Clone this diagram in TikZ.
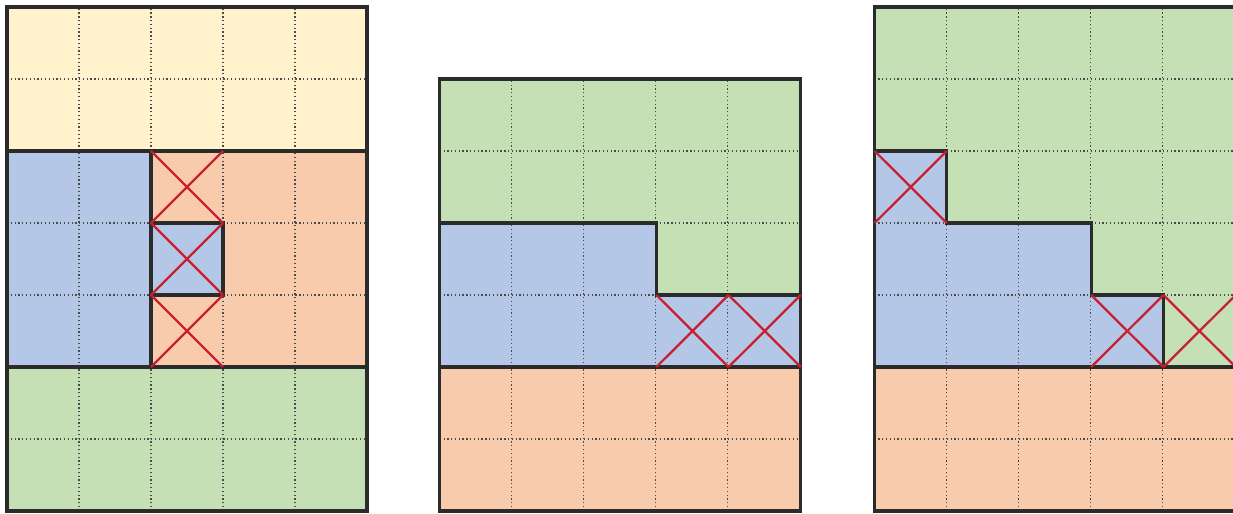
\documentclass[tikz,border=0pt]{standalone}
\usepackage{xcolor}
\usepackage{tikz}
\definecolor{cream100}{HTML}{FFF2CC}
\definecolor{blue200} {HTML}{B4C7E7}
\definecolor{clay200} {HTML}{F8CBAD}
\definecolor{green200}{HTML}{C5E0B4}
\definecolor{red600}  {HTML}{C8202E}
\definecolor{grey600} {HTML}{4A4A4A}
\definecolor{grey800} {HTML}{2B2B2B}
\newcommand{\xcell}[2]{\draw[xmark] (#1,#2) -- ++(1,1) (#1+1,#2) -- ++(-1,1);}
\tikzset{
  gridln/.style ={draw=grey600, line width=0.5pt, densely dotted},
  bound/.style  ={draw=grey800, line width=1.2pt, line join=miter},
  xmark/.style  ={draw=red600, line width=0.9pt}
}

\begin{document}
\begin{tikzpicture}
\useasboundingbox (-0.097,-0.03) rectangle (17.028,7.097);
\clip (-0.097,-0.03) rectangle (17.028,7.097);

% left grid
\begin{scope}
\fill[cream100] (0,5) rectangle (5,7);
\fill[blue200]  (0,2) rectangle (2,5);
\fill[clay200]  (2,2) rectangle (5,5);
\fill[blue200]  (2,3) rectangle (3,4);
\fill[green200] (0,0) rectangle (5,2);
\draw[gridln] (0,0) grid (5,7);
\draw[bound] (0,0) rectangle (5,7);
\draw[bound] (0,2) -- (5,2) (0,5) -- (5,5) (2,2) -- (2,5) (2,3) rectangle (3,4);
\xcell{2}{2} \xcell{2}{3} \xcell{2}{4}
\end{scope}

% middle grid
\begin{scope}[xshift=6.01cm, x=1.003cm]
\fill[green200] (0,2) rectangle (5,6);
\fill[blue200]  (0,2) -- (5,2) -- (5,3) -- (3,3) -- (3,4) -- (0,4) -- cycle;
\fill[clay200]  (0,0) rectangle (5,2);
\draw[gridln] (0,0) grid (5,6);
\draw[bound] (0,0) rectangle (5,6);
\draw[bound] (0,2) -- (5,2) (0,4) -- (3,4) -- (3,3) -- (5,3);
\xcell{3}{2} \xcell{4}{2}
\end{scope}

% right grid
\begin{scope}[xshift=12.05cm, x=1.003cm]
\fill[green200] (0,2) rectangle (5,7);
\fill[blue200]  (0,2) -- (4,2) -- (4,3) -- (3,3) -- (3,4) -- (1,4) -- (1,5)
                -- (0,5) -- cycle;
\fill[clay200]  (0,0) rectangle (5,2);
\draw[gridln] (0,0) grid (5,7);
\draw[bound] (0,0) rectangle (5,7);
\draw[bound] (0,2) -- (5,2)
  (0,5) -- (1,5) -- (1,4) -- (3,4) -- (3,3) -- (4,3) -- (4,2);
\xcell{0}{4} \xcell{3}{2} \xcell{4}{2}
\end{scope}
\end{tikzpicture}
\end{document}
